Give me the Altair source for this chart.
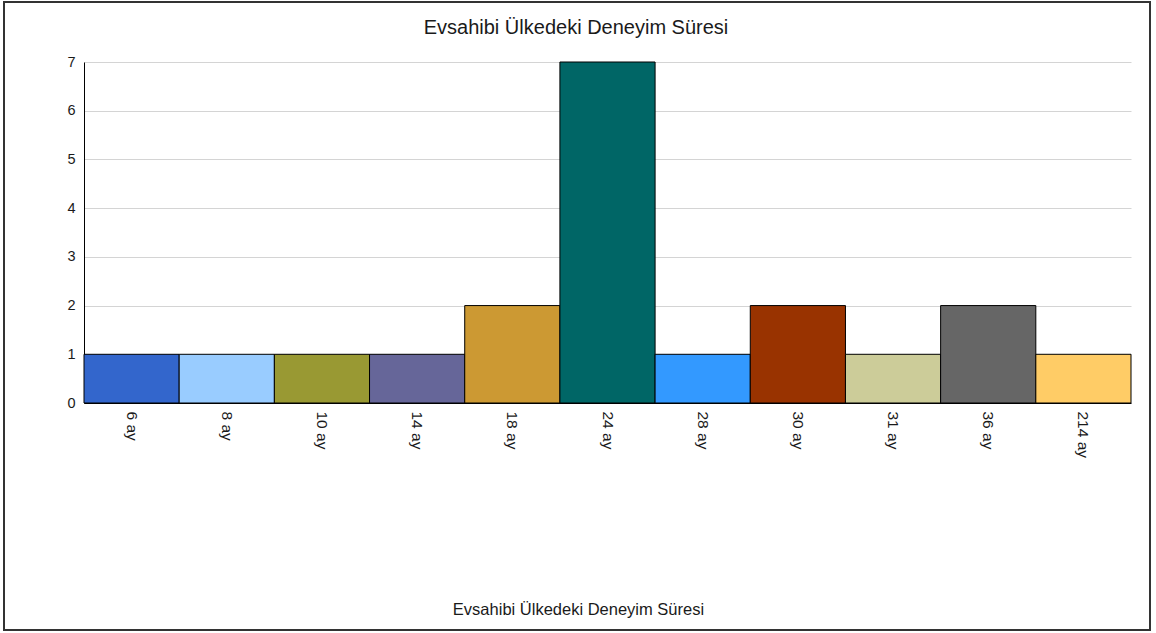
import altair as alt
import pandas as pd

# Category labels, counts and the fill used for each bar
durations = ["6 ay", "8 ay", "10 ay", "14 ay", "18 ay", "24 ay", "28 ay", "30 ay", "31 ay", "36 ay", "214 ay"]
counts = [1, 1, 1, 1, 2, 7, 1, 2, 1, 2, 1]
colors = ["#3366CC", "#99CCFF", "#999933", "#666699", "#CC9933", "#006666",
          "#3399FF", "#993300", "#CCCC99", "#666666", "#FFCC66"]

title_text = "Evsahibi Ülkedeki Deneyim Süresi"
FONT = "Liberation Sans"
TEXT_COLOR = "#1a1a1a"

df = pd.DataFrame({"sure": durations, "adet": counts, "renk": colors})

PLOT_W, PLOT_H = 1047, 341
PAD_L, PAD_T, PAD_R, PAD_B = 84, 62, 25, 230

bars = alt.Chart(df).mark_bar(stroke="#000000", strokeWidth=1).encode(
    x=alt.X(
        "sure:N",
        sort=durations,
        scale=alt.Scale(paddingInner=0, paddingOuter=0),
        axis=alt.Axis(
            title=title_text,
            labelAngle=90,
            labelAlign="left",
            labelBaseline="middle",
            labelPadding=8,
            labelFontSize=15.5,
            ticks=False,
            domainColor="#000000",
            titleFontWeight="normal",
            titleFontSize=16.5,
            titleX=494,
            titleY=206,
            titleAlign="center",
            titleBaseline="middle",
        ),
    ),
    y=alt.Y(
        "adet:Q",
        scale=alt.Scale(domain=[0, 7], nice=False),
        axis=alt.Axis(
            title=None,
            values=list(range(0, 8)),
            tickCount=8,
            ticks=False,
            labelPadding=9,
            labelFontSize=14.5,
            domainColor="#000000",
            gridColor="#d4d4d4",
        ),
    ),
    color=alt.Color("renk:N", scale=None, legend=None),
)

# Chart heading above the plot
heading = alt.Chart(pd.DataFrame({"t": [title_text]})).mark_text(
    font=FONT, fontSize=20, color=TEXT_COLOR, align="center", baseline="middle"
).encode(
    text="t:N",
    x=alt.value(492),
    y=alt.value(28 - PAD_T),
)

# Outer frame around the whole chart
frame = alt.Chart(pd.DataFrame({"k": [0]})).mark_rect(
    fill=None, stroke="#333333", strokeWidth=2, clip=False
).encode(
    x=alt.value(-PAD_L + 4),
    x2=alt.value(PLOT_W + PAD_R - 6),
    y=alt.value(-PAD_T + 2),
    y2=alt.value(PLOT_H + PAD_B - 3),
)

chart = alt.layer(bars, heading, frame).properties(
    width=PLOT_W,
    height=PLOT_H,
    padding={"left": PAD_L, "top": PAD_T, "right": PAD_R, "bottom": PAD_B},
    autosize=alt.AutoSizeParams(type="none"),
).configure(
    font=FONT,
    background="#ffffff",
).configure_axis(
    labelFont=FONT,
    titleFont=FONT,
    labelColor=TEXT_COLOR,
    titleColor=TEXT_COLOR,
).configure_view(stroke=None)

chart.save("out.html", embed_options={"renderer": "svg", "actions": False})
